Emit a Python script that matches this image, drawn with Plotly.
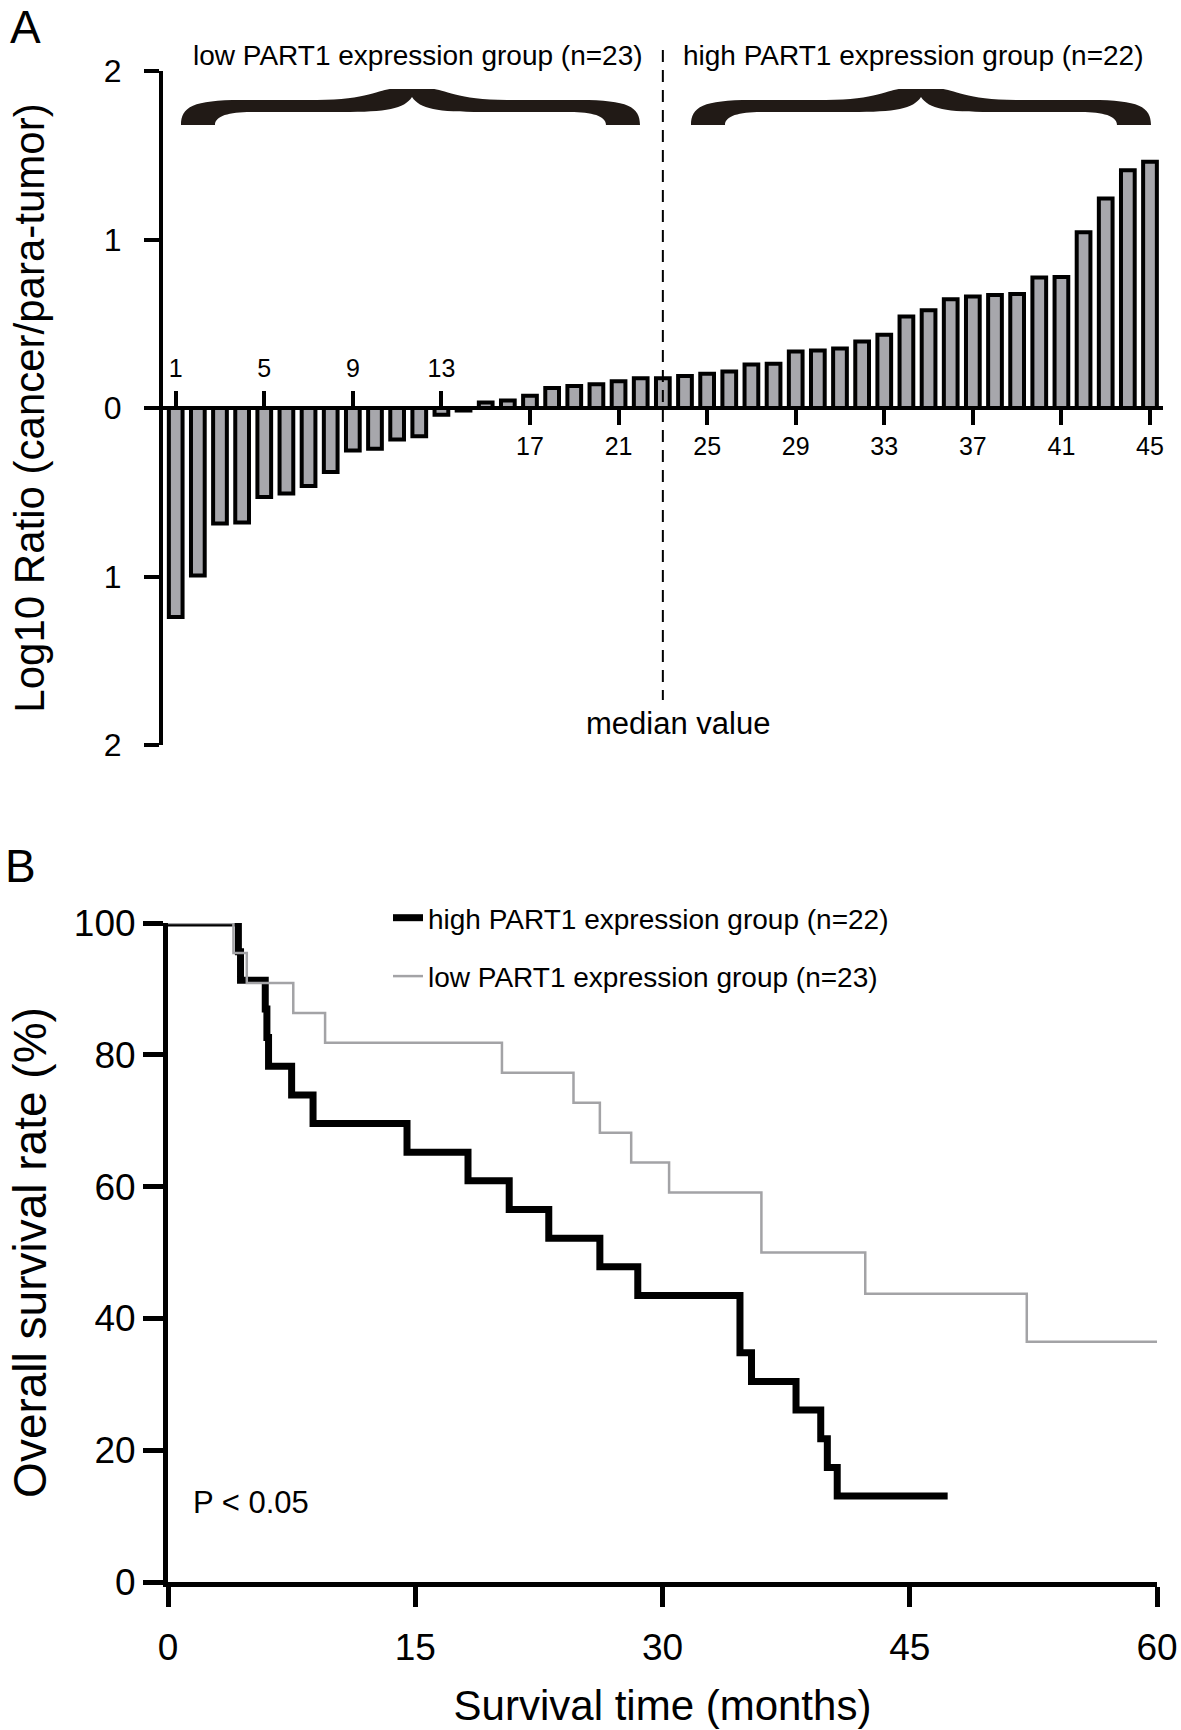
import plotly.graph_objects as go

W, H = 1181, 1730
OFF = 0  # body margin removed via post_script below
FONT = "Liberation Sans, Arial, sans-serif"

# ---------------- Panel A data ----------------
sample_ids = list(range(1, 46))
log10_ratio = [-1.24, -0.994, -0.685, -0.68, -0.528, -0.508, -0.463, -0.38, -0.252, -0.242,
               -0.187, -0.167, -0.04, -0.015, 0.033, 0.044, 0.073, 0.119, 0.131, 0.141,
               0.159, 0.177, 0.177, 0.19, 0.204, 0.216, 0.258, 0.262, 0.335, 0.341,
               0.353, 0.395, 0.435, 0.543, 0.58, 0.645, 0.662, 0.67, 0.676, 0.775,
               0.778, 1.043, 1.244, 1.411, 1.461]
xtick_top = [1, 5, 9, 13]
xtick_bottom = [17, 21, 25, 29, 33, 37, 41, 45]
ytick_vals_a = [2, 1, 0, -1, -2]
ytick_text_a = ["2", "1", "0", "1", "2"]
median_sample = 23
low_group_label = "low PART1 expression group (n=23)"
high_group_label = "high PART1 expression group (n=22)"

# ---------------- Panel B data ----------------
high_times = [4.27, 4.4, 5.9, 6.0, 6.1, 7.5, 8.8, 14.5, 18.2, 20.7, 23.1, 26.2, 28.5,
              34.7, 35.4, 38.1, 39.6, 40.0, 40.6]
high_surv = [95.65, 91.3, 86.96, 82.61, 78.26, 73.91, 69.57, 65.22, 60.87, 56.52, 52.17,
             47.83, 43.48, 34.78, 30.43, 26.09, 21.74, 17.39, 13.04]
high_end = 47.3
low_times = [3.97, 4.78, 7.6, 9.53, 20.26, 24.6, 26.2, 28.1, 30.4, 36.0, 42.3, 52.1]
low_surv = [95.45, 90.91, 86.36, 81.82, 77.27, 72.73, 68.18, 63.64, 59.09, 50.0, 43.75, 36.46]
low_end = 60
xtick_b = [0, 15, 30, 45, 60]
ytick_b = [0, 20, 40, 60, 80, 100]


def px_x(p):
    return (p - OFF) / W


def px_y(p):
    return 1 - (p - OFF) / H


fig = go.Figure()

fig.add_trace(go.Bar(
    x=sample_ids, y=log10_ratio, width=0.62,
    marker=dict(color="#a7a7ac", line=dict(color="black", width=4)),
    xaxis="x", yaxis="y", showlegend=False))


def km_xy(times, surv, end):
    return [0] + list(times) + [end], [100] + list(surv) + [surv[-1]]


hx, hy = km_xy(high_times, high_surv, high_end)
lx, ly = km_xy(low_times, low_surv, low_end)
fig.add_trace(go.Scatter(x=hx, y=hy, mode="lines", line=dict(color="black", width=7, shape="hv"),
                         name=high_group_label, legendgroup="high", xaxis="x2", yaxis="y2",
                         cliponaxis=False))
fig.add_trace(go.Scatter(x=lx, y=ly, mode="lines", line=dict(color="#a3a3a6", width=2.5, shape="hv"),
                         name=low_group_label, legendgroup="low", xaxis="x2", yaxis="y2",
                         cliponaxis=False))

# axis geometry (pixels)
A_L, A_R, A_T, A_B, A_ZERO = 163, 1163, 71, 745, 408
bar0_px, bar_step = 175.7, 22.143
xa_range = [1 + (A_L - bar0_px) / bar_step, 1 + (A_R - bar0_px) / bar_step]

B_L, B_R, B_T, B_B = 168, 1157, 923, 1582

axis_common = dict(showgrid=False, zeroline=False, linecolor="black", tickcolor="black",
                   ticks="outside", showline=True, automargin=False)

fig.update_layout(
    width=W, height=H, autosize=False,
    margin=dict(l=0, r=0, t=0, b=0, autoexpand=False),
    paper_bgcolor="white", plot_bgcolor="white",
    font=dict(family=FONT, color="black"),
    xaxis=dict(domain=[px_x(A_L), px_x(A_R)], range=xa_range, anchor="free",
               position=px_y(A_ZERO), tickvals=xtick_bottom, ticklen=15, tickwidth=4,
               linewidth=4, tickfont=dict(size=25), ticklabelstandoff=0, **axis_common),
    xaxis3=dict(overlaying="x", range=xa_range, anchor="free", position=px_y(A_ZERO),
                side="top", tickvals=xtick_top, ticklen=17, tickwidth=4, showline=False,
                tickfont=dict(size=25), ticklabelstandoff=4, showgrid=False, zeroline=False,
                ticks="outside", tickcolor="black", automargin=False),
    yaxis=dict(domain=[px_y(A_B), px_y(A_T)], range=[-2, 2], anchor="x",
               tickvals=ytick_vals_a, ticktext=ytick_text_a, ticklen=15, tickwidth=4,
               linewidth=4, tickfont=dict(size=32), ticklabelstandoff=16,
               title=dict(text="Log10 Ratio (cancer/para-tumor)", font=dict(size=42), standoff=47),
               **axis_common),
    xaxis2=dict(domain=[px_x(B_L), px_x(B_R)], range=[0, 60], anchor="y2",
                tickvals=xtick_b, ticklen=20, tickwidth=5, linewidth=5,
                tickfont=dict(size=37), ticklabelstandoff=9,
                title=dict(text="Survival time (months)", font=dict(size=42), standoff=25),
                **axis_common),
    yaxis2=dict(domain=[px_y(B_B), px_y(B_T)], range=[0, 100], anchor="x2",
                tickvals=ytick_b, ticklen=20, tickwidth=5, linewidth=5,
                tickfont=dict(size=37), ticklabelstandoff=0,
                title=dict(text="Overall survival rate (%)", font=dict(size=46), standoff=14),
                **axis_common),
    legend=dict(x=px_x(388), y=px_y(893), xanchor="left", yanchor="top",
                font=dict(size=28, family=FONT), traceorder="grouped", tracegroupgap=19,
                bgcolor="rgba(0,0,0,0)", itemwidth=30),
    showlegend=True,
)

# invisible point on xaxis3 so the top tick axis renders
fig.add_trace(go.Scatter(x=[sample_ids[0]], y=[0], xaxis="x3", yaxis="y", mode="markers",
                         marker=dict(opacity=0), showlegend=False, hoverinfo="skip"))

# median dashed line
fig.add_shape(type="line", xref="x", yref="paper", x0=median_sample, x1=median_sample,
              y0=px_y(50), y1=px_y(700), line=dict(color="black", width=2, dash="12px,8px"))


# curly braces (decoration)
def brace_path(x0, x1, xc, yt=125, ytop=100, ybot=112, yp=89, tw=34, pk=20):
    pts = [
        ("M", [(x0, yt)]),
        ("C", [(x0, yt - 18), (x0 + 12, ytop), (x0 + 60, ytop)]),
        ("L", [(xc - 95, ytop)]),
        ("C", [(xc - 45, ytop), (xc - 32, yp), (xc - pk, yp)]),
        ("L", [(xc + pk, yp)]),
        ("C", [(xc + 32, yp), (xc + 45, ytop), (xc + 95, ytop)]),
        ("L", [(x1 - 60, ytop)]),
        ("C", [(x1 - 12, ytop), (x1, yt - 18), (x1, yt)]),
        ("L", [(x1 - tw, yt)]),
        ("C", [(x1 - tw, ybot + 4), (x1 - tw - 14, ybot), (x1 - 70, ybot)]),
        ("L", [(xc + 70, ybot)]),
        ("C", [(xc + 25, ybot), (xc + 8, ybot - 3), (xc, ytop - 3)]),
        ("C", [(xc - 8, ybot - 3), (xc - 25, ybot), (xc - 70, ybot)]),
        ("L", [(x0 + 70, ybot)]),
        ("C", [(x0 + tw + 14, ybot), (x0 + tw, ybot + 4), (x0 + tw, yt)]),
    ]
    s = ""
    for cmd, ps in pts:
        s += cmd + " ".join(f"{px_x(a):.5f},{px_y(b):.5f}" for a, b in ps) + " "
    return s + "Z"


for (x0, x1, xc) in [(181, 640, 412), (691, 1151, 921)]:
    fig.add_shape(type="path", xref="paper", yref="paper", path=brace_path(x0, x1, xc),
                  fillcolor="#211a16", line=dict(width=0))


def ann(text, xp, yp, size):
    fig.add_annotation(text=text, x=px_x(xp), y=px_y(yp), xref="paper", yref="paper",
                       xanchor="center", yanchor="middle", showarrow=False,
                       font=dict(size=size, family=FONT, color="black"))


ann("A", 25, 27, 46)
ann("B", 20, 866, 46)
ann(low_group_label, 418, 56, 28)
ann(high_group_label, 913, 56, 28)
ann("median value", 678, 723, 31)
ann("P < 0.05", 251, 1502, 31)

fig.write_html("out.html", config={"displayModeBar": False},
               post_script="document.body.style.margin='0';document.body.style.overflow='hidden';")
